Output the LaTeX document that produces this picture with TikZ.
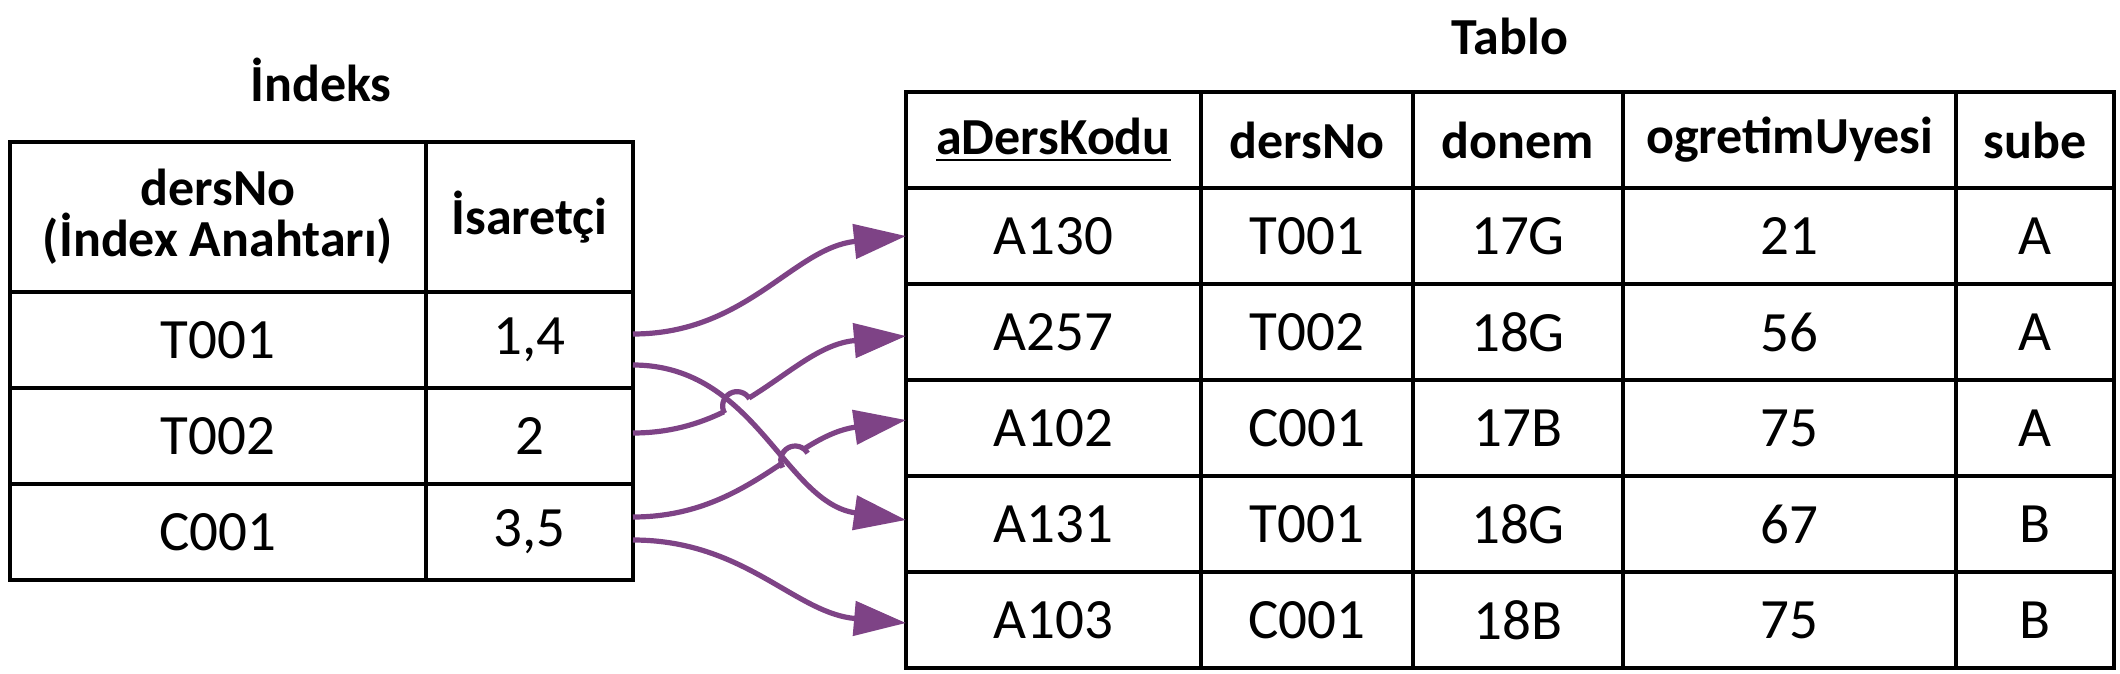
\documentclass[tikz,border=0pt]{standalone}
\usepackage{fontspec}
\setmainfont{Carlito}
\usepackage{tikz}
\usetikzlibrary{arrows.meta,intersections}
\definecolor{linkpurple}{RGB}{126,67,134}

\begin{document}
\begin{tikzpicture}[x=0.25pt,y=0.25pt,
            cell/.style={draw,line width=0.8pt,inner sep=0pt,outer sep=0pt,
              minimum height=24pt,font=\fontsize{14.25}{17}\selectfont},
            head/.style={cell,font=\fontsize{13}{12.75}\selectfont\bfseries},
            title/.style={anchor=base,font=\fontsize{13}{15}\selectfont\bfseries},
            cK/.style={minimum width=104pt},
            cP/.style={minimum width=51.75pt},
            cA/.style={minimum width=73.75pt},
            cD/.style={minimum width=53pt},
            cT/.style={minimum width=52.5pt},
            cO/.style={minimum width=83.25pt},
            cS/.style={minimum width=39.5pt},
            link/.style={draw=linkpurple,line width=1.3pt,
              -{Triangle[length=13pt,width=8.5pt]}},
            hop/.style={draw=linkpurple,line width=1.3pt}]
          \useasboundingbox (0,0) rectangle (2120,-674);

          % index table
          \node[title] (tIdx) at (321,-101) {İndeks};
          \node[head,cK,minimum height=37.5pt,align=center] (kH) at (218,-217) {dersNo\\(İndex Anahtarı)};
          \node[head,cP,minimum height=37.5pt] (pH) at (529.5,-217) {İsaretçi};
          \node[cell,cK] (k1) at (218,-340) {T001};
          \node[cell,cP] (p1) at (529.5,-340) {1,4};
          \node[cell,cK] (k2) at (218,-436) {T002};
          \node[cell,cP] (p2) at (529.5,-436) {2};
          \node[cell,cK] (k3) at (218,-532) {C001};
          \node[cell,cP] (p3) at (529.5,-532) {3,5};

          % data table
          \node[title] (tTab) at (1510,-54) {Tablo};
          \node[head,cA] (aH) at (1053.5,-140) {\underline{aDersKodu}};
          \node[head,cD] (dH) at (1307,-140) {dersNo};
          \node[head,cT] (tH) at (1518,-140) {donem};
          \node[head,cO] (oH) at (1789.5,-140) {ogretimUyesi};
          \node[head,cS] (sH) at (2035,-140) {sube};

          \node[cell,cA] (a1) at (1053.5,-236) {A130};
          \node[cell,cD] (d1) at (1307,-236) {T001};
          \node[cell,cT] (t1) at (1518,-236) {17G};
          \node[cell,cO] (o1) at (1789.5,-236) {21};
          \node[cell,cS] (s1) at (2035,-236) {A};

          \node[cell,cA] (a2) at (1053.5,-332) {A257};
          \node[cell,cD] (d2) at (1307,-332) {T002};
          \node[cell,cT] (t2) at (1518,-332) {18G};
          \node[cell,cO] (o2) at (1789.5,-332) {56};
          \node[cell,cS] (s2) at (2035,-332) {A};

          \node[cell,cA] (a3) at (1053.5,-428) {A102};
          \node[cell,cD] (d3) at (1307,-428) {C001};
          \node[cell,cT] (t3) at (1518,-428) {17B};
          \node[cell,cO] (o3) at (1789.5,-428) {75};
          \node[cell,cS] (s3) at (2035,-428) {A};

          \node[cell,cA] (a4) at (1053.5,-524) {A131};
          \node[cell,cD] (d4) at (1307,-524) {T001};
          \node[cell,cT] (t4) at (1518,-524) {18G};
          \node[cell,cO] (o4) at (1789.5,-524) {67};
          \node[cell,cS] (s4) at (2035,-524) {B};

          \node[cell,cA] (a5) at (1053.5,-620) {A103};
          \node[cell,cD] (d5) at (1307,-620) {C001};
          \node[cell,cT] (t5) at (1518,-620) {18B};
          \node[cell,cO] (o5) at (1789.5,-620) {75};
          \node[cell,cS] (s5) at (2035,-620) {B};

          % pointers
          \path[name path=c2] ([yshift=-6.25pt]p1.east) to[out=0,in=172] ([yshift=1pt]a4.west);
          \draw[link] ([yshift=1.5pt]p1.east) to[out=0,in=186] (a1.west);
          \draw[link,name path=c3] ([yshift=0.75pt]p2.east) to[out=0,in=185] ([yshift=-1pt]a2.west);
          \draw[link,name path=c4] ([yshift=3.75pt]p3.east) to[out=0,in=188] ([yshift=2pt]a3.west);
          \draw[link] ([yshift=-2pt]p3.east) to[out=0,in=175] ([yshift=-0.75pt]a5.west);
          \path[name intersections={of=c2 and c3,by=x1}];
          \path[name intersections={of=c2 and c4,by=x2}];
          \fill[white] (x1) circle (3.6pt) (x2) circle (3.6pt);
          \draw[link] ([yshift=-6.25pt]p1.east) to[out=0,in=172] ([yshift=1pt]a4.west);
          \draw[hop] ([shift={(210:3.6pt)}]x1) arc[start angle=210,end angle=30,radius=3.6pt];
          \draw[hop] ([shift={(210:3.6pt)}]x2) arc[start angle=210,end angle=30,radius=3.6pt];
        \end{tikzpicture}
\end{document}
